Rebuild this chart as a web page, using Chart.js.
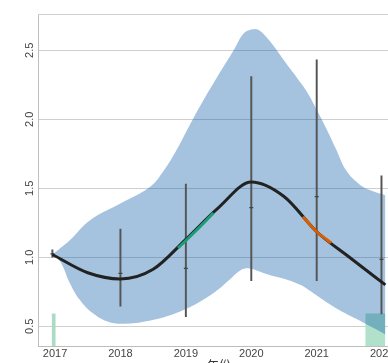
<!DOCTYPE html>
<html><head><meta charset="utf-8">
<script src="https://cdn.jsdelivr.net/npm/chart.js@4.4.1/dist/chart.umd.min.js"></script>
<style>html,body{margin:0;padding:0;overflow:hidden;background:#fff}#wrap{width:405px;height:373px}</style>
</head><body><div id="wrap"><canvas id="c"></canvas></div>
<script>
// tick labels
const xTicks = [2017, 2018, 2019, 2020, 2021, 2022];
const yTicks = [0.5, 1.0, 1.5, 2.0, 2.5];
// smoothed trend curve
const curveX = [2016.96, 2017.5, 2018, 2018.5, 2019, 2019.5, 2020, 2020.5, 2021, 2021.5, 2022.05];
const curveY = [1.02, 0.888, 0.843, 0.913, 1.13, 1.36, 1.545, 1.44, 1.185, 1.0, 0.80];
// highlighted pieces of the curve
const greenX = [2018.88, 2019.15, 2019.42];
const greenY = [1.067, 1.19, 1.321];
const orangeX = [2020.79, 2021.0, 2021.22];
const orangeY = [1.294, 1.185, 1.104];
// uncertainty band
const upperX = [2016.96, 2017.23, 2017.54, 2018.0, 2018.45, 2018.65, 2018.86, 2019.05, 2019.27, 2019.47, 2019.73, 2019.88, 2020.0, 2020.1, 2020.24, 2020.39, 2020.54, 2020.7, 2020.85, 2021.0, 2021.15, 2021.3, 2021.45, 2021.65, 2021.85, 2022.05];
const upperY = [1.02, 1.125, 1.27, 1.39, 1.51, 1.62, 1.78, 1.95, 2.14, 2.30, 2.50, 2.62, 2.65, 2.65, 2.59, 2.50, 2.40, 2.30, 2.20, 2.07, 1.93, 1.78, 1.63, 1.53, 1.48, 1.45];
const lowerX = [2016.96, 2017.08, 2017.23, 2017.38, 2017.58, 2017.83, 2018.14, 2018.49, 2018.76, 2019.0, 2019.22, 2019.45, 2019.65, 2019.83, 2019.95, 2020.08, 2020.29, 2020.5, 2020.75, 2020.95, 2021.2, 2021.45, 2021.7, 2021.9, 2022.05];
const lowerY = [1.02, 0.97, 0.81, 0.69, 0.594, 0.53, 0.52, 0.545, 0.58, 0.625, 0.68, 0.75, 0.83, 0.905, 0.92, 0.905, 0.87, 0.845, 0.80, 0.74, 0.66, 0.59, 0.53, 0.48, 0.44];
// error bars
const errX = [2016.96, 2018, 2019, 2020, 2021, 2021.99];
const errLow = [1.0, 0.645, 0.57, 0.83, 0.83, 0.59];
const errHigh = [1.054, 1.205, 1.53, 2.31, 2.43, 1.59];
const errMid = [1.025, 0.884, 0.92, 1.36, 1.44, 0.985];
// bottom bars
const barX = [2016.98, 2021.895];
const barTop = [0.59, 0.59];

const Y_MIN = 0.357, Y_MAX = 2.763, X_MIN = 2016.74, X_MAX = 2022.27;

const xy = (xs, ys) => xs.map((x, i) => ({x, y: ys[i]}));

const frame = {
  id: 'frame',
  afterDraw(chart) {
    const {ctx, chartArea: a, scales: {y}} = chart;
    ctx.save();
    ctx.strokeStyle = '#cfcfcf'; ctx.lineWidth = 1;
    ctx.beginPath(); ctx.moveTo(a.left, a.top + 0.5); ctx.lineTo(a.right, a.top + 0.5); ctx.stroke();
    ctx.fillStyle = '#444';
    ctx.font = '11px "Liberation Sans", Arial, sans-serif';
    ctx.textAlign = 'center'; ctx.textBaseline = 'middle';
    yTicks.forEach(v => {
      const py = y.getPixelForValue(v);
      ctx.save(); ctx.translate(30, py); ctx.rotate(-Math.PI / 2);
      ctx.fillText(v.toFixed(1), 0, 0); ctx.restore();
    });
    ctx.restore();
  }
};

new Chart(document.getElementById('c'), {
  data: {
    datasets: [
      {type: 'line', data: xy(upperX, upperY), borderWidth: 0, pointRadius: 0, tension: 0.4,
       backgroundColor: 'rgba(12,93,166,0.37)', fill: '+1', order: 7},
      {type: 'line', data: xy(lowerX, lowerY), borderWidth: 0, pointRadius: 0, tension: 0.4, fill: false, order: 7.5},
      {type: 'bar', data: [{x: barX[0], y: [Y_MIN, barTop[0]]}], grouped: false,
       barThickness: 3, backgroundColor: '#aadcc5', order: 10},
      {type: 'bar', data: [{x: barX[1], y: [Y_MIN, barTop[1]]}], grouped: false,
       barThickness: 19, backgroundColor: '#b1e0cb', order: 10},
      {type: 'bar', data: errX.map((x, i) => ({x, y: [errLow[i], errHigh[i]]})), grouped: false,
       barThickness: 1.3, backgroundColor: '#555', order: 5},
      {type: 'scatter', data: xy(errX, errMid), pointStyle: 'line', pointRadius: 2, borderColor: '#444', borderWidth: 1.2, order: 4},
      {type: 'line', data: xy(curveX, curveY), borderColor: '#222', borderWidth: 3, pointRadius: 0,
       cubicInterpolationMode: 'monotone', fill: false, order: 2},
      {type: 'line', data: xy(greenX, greenY), borderColor: '#1b9e77', borderWidth: 3, pointRadius: 0, tension: 0.3, fill: false, order: 1},
      {type: 'line', data: xy(orangeX, orangeY), borderColor: '#d95f02', borderWidth: 3, pointRadius: 0, tension: 0.3, fill: false, order: 0}
    ]
  },
  options: {
    responsive: true, maintainAspectRatio: false, animation: false,
    layout: {padding: {top: 14, right: 5, left: 0, bottom: 0}},
    plugins: {legend: {display: false}, tooltip: {enabled: false}},
    scales: {
      x: {type: 'linear', min: X_MIN, max: X_MAX, offset: false,
          afterBuildTicks: s => { s.ticks = xTicks.map(v => ({value: v})); },
          afterFit: s => { s.height = 27; },
          grid: {display: false, drawTicks: false},
          border: {display: true, color: '#bdbdbd', width: 1},
          ticks: {padding: 1, color: '#444', font: {family: '"Liberation Sans", Arial, sans-serif', size: 11},
                  callback: v => String(v), maxRotation: 0, autoSkip: false},
          title: {display: true, text: '年份', color: '#333', padding: 0,
                  font: {family: '"Noto Sans CJK SC", sans-serif', size: 12}}},
      y: {type: 'linear', min: Y_MIN, max: Y_MAX,
          afterBuildTicks: s => { s.ticks = yTicks.map(v => ({value: v})); },
          afterFit: s => { s.width = 38; },
          grid: {color: '#cfcfcf', lineWidth: 1, drawTicks: false},
          border: {display: true, color: '#bdbdbd', width: 1},
          ticks: {display: false}}
    }
  },
  plugins: [frame]
});
</script></body></html>
